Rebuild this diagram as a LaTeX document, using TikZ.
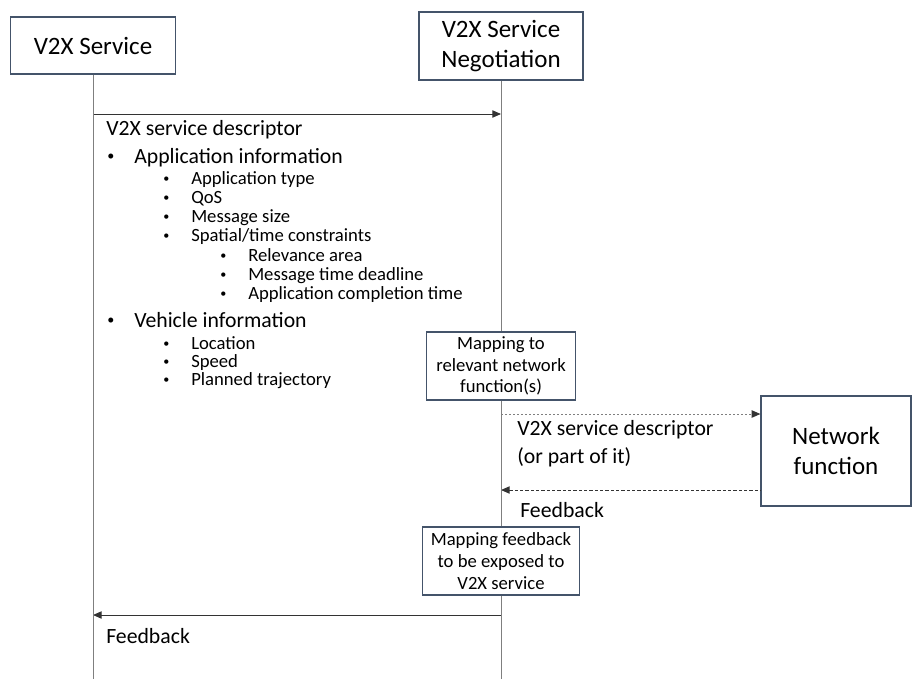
\documentclass[tikz,border=0pt]{standalone}
\usepackage{graphicx}
\usepackage{fontspec}
\setmainfont{Carlito}
\usetikzlibrary{arrows.meta,positioning}
\definecolor{boxline}{HTML}{44546A}
\definecolor{lifegray}{HTML}{7F7F7F}
\definecolor{msgline}{HTML}{333333}
\tikzset{
  >={Triangle[length=6.5pt,width=5.5pt]},
  seqdiag/.style={x=0.75pt, y=-0.75pt},
  actor/.style={
    rectangle, draw=boxline, line width=0.9pt, fill=white,
    align=center, inner sep=0pt, font=\fontsize{18.75}{22.5}\selectfont
  },
  mapbox/.style={
    rectangle, draw=boxline, line width=0.9pt, fill=white,
    align=center, inner sep=0pt, font=\fontsize{14}{16.3}\selectfont
  },
  lifeline/.style={draw=lifegray, line width=0.75pt},
  msg/.style={->, draw=msgline, line width=0.75pt},
  msgdot/.style={-{Triangle[length=6.5pt,width=5.5pt,color=msgline]}, draw=lifegray,
    line width=0.75pt, dash pattern=on 1.5pt off 1.5pt},
  msgdash/.style={msg, dash pattern=on 2.5pt off 1.5pt},
  lbl/.style={anchor=base west, inner sep=0pt, font=\fontsize{16.3}{19.5}\selectfont},
  subitem/.style={anchor=base west, inner sep=0pt, font=\fontsize{14}{16.8}\selectfont}
}
\newcommand{\dotmark}{\hspace*{1.5pt}\raisebox{0.1em}{\scalebox{0.65}{\textbullet}}}
\newcommand{\bulA}{\makebox[21.75pt][l]{\dotmark}}
\newcommand{\bulB}{\makebox[22.5pt][l]{\dotmark}}

\begin{document}
\begin{tikzpicture}[seqdiag]
\useasboundingbox (0,0) rectangle (912,679);

% 1 : Acteurs
\node[actor, minimum width=123.75pt, minimum height=42.75pt] (svc) at (93,45.5) {V2X Service};
\node[actor, minimum width=123pt, minimum height=51pt] (nego) at (501,46) {V2X Service\\Negotiation};
\coordinate (svcend) at (svc.south |- 0,679);

% 2 : Descripteur de service
\coordinate (d1s) at (svc.south |- 0,114);
\coordinate (d1e) at (nego.south |- 0,114);
\draw[msg] (d1s) -- (d1e);
\node[lbl] (desc) at (106,135) {V2X service descriptor};
\node[lbl] (appinfo) at (105,163) {\bulA Application information};
\node[subitem] (apptype) at (161,184) {\bulB Application type};
\node[subitem] (qos) at (161,203) {\bulB QoS};
\node[subitem] (msgsize) at (161,222) {\bulB Message size};
\node[subitem] (spatial) at (161,241) {\bulB Spatial/time constraints};
\node[subitem] (relarea) at (218,261) {\bulB Relevance area};
\node[subitem] (deadline) at (218,280) {\bulB Message time deadline};
\node[subitem] (compl) at (218,299) {\bulB Application completion time};
\node[lbl] (vehinfo) at (105,327) {\bulA Vehicle information};
\node[subitem] (loc) at (161,349) {\bulB Location};
\node[subitem] (speed) at (161,367) {\bulB Speed};
\node[subitem] (traj) at (161,385) {\bulB Planned trajectory};

% 3 : Mapping vers les fonctions reseau
\node[mapbox, minimum width=111.75pt, minimum height=51pt] (mapnf) at (501,366) {Mapping to\\relevant network\\function(s)};
\node[actor, minimum width=112.5pt, minimum height=82.5pt] (netfn) at (836,451) {Network\\function};
\coordinate (q1) at (nego.south |- 0,414);
\draw[msgdot] (q1) -- (q1 -| netfn.west);
\node[lbl] (desc2) at (517,435) {V2X service descriptor};
\node[lbl] (part) at (517,463) {(or part of it)};

% 4 : Retour
\coordinate (r1) at (nego.south |- 0,490);
\draw[msgdash, <-] (r1) -- (r1 -| netfn.west);
\node[lbl] (fb1) at (520,517) {Feedback};

% 5 : Mapping du retour
\node[mapbox, minimum width=117.75pt, minimum height=51pt] (mapfb) at (501,561) {Mapping feedback\\to be exposed to\\V2X service};
\coordinate (negoend) at (nego.south |- 0,679);
\coordinate (f1s) at (nego.south |- 0,615);
\draw[msg] (f1s) -- (f1s -| svc.south);
\node[lbl] (fb2) at (106,643) {Feedback};

% lignes de vie
\draw[lifeline] (svc) -- (svcend);
\draw[lifeline] (nego) -- (mapnf);
\draw[lifeline] (mapnf) -- (mapfb);
\draw[lifeline] (mapfb) -- (negoend);

\end{tikzpicture}
\end{document}
